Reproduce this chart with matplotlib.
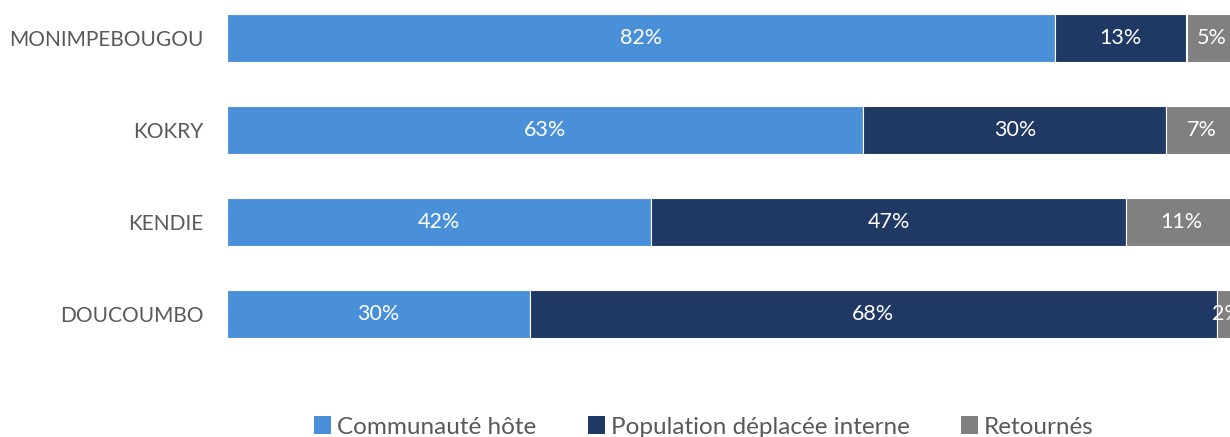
import matplotlib
matplotlib.use("Agg")
import matplotlib.pyplot as plt
import numpy as np

categories = ["MONIMPEBOUGOU", "KOKRY", "KENDIE", "DOUCOUMBO"]
series_names = ["Communauté hôte", "Population déplacée interne", "Retournés"]
hote = [82, 63, 42, 30]
deplacee = [13, 30, 47, 68]
retournes = [5, 7, 11, 2]
colors = ["#4A90D9", "#203864", "#808080"]

plt.rcParams['font.family'] = ['Lato', 'DejaVu Sans']

W, H = 1230, 437
fig = plt.figure(figsize=(W / 100, H / 100), dpi=100)
# axes in pixel terms
left_px, right_px = 227, 1237
top_px, bot_px = 0, 360
ax = fig.add_axes([left_px / W, 1 - bot_px / H, (right_px - left_px) / W, (bot_px - top_px) / H])

y = np.arange(len(categories))
bar_h = 48 / 92
series = [hote, deplacee, retournes]
left = np.zeros(len(categories))
handles = []
for name, vals, col in zip(series_names, series, colors):
    vals = np.array(vals, dtype=float)
    b = ax.barh(y, vals, left=left, height=bar_h, color=col, edgecolor="white", linewidth=0.8, label=name)
    handles.append(b)
    for yi, l, v in zip(y, left, vals):
        ax.text(l + v / 2, yi, f"{int(v)}%", ha="center", va="center", color="white", fontsize=15.5)
    left += vals

ax.set_xlim(0, 100)
ax.set_ylim((bot_px - 38) / 92, (top_px - 38) / 92)
ax.set_yticks(y)
ax.set_yticklabels(categories, fontsize=15, color="#595959")
ax.tick_params(axis="y", length=0, pad=17)
ax.set_xticks([])
for s in ax.spines.values():
    s.set_visible(False)

leg = fig.legend(handles=handles, labels=series_names, loc="center", bbox_to_anchor=(704 / W, 1 - 427 / H),
                 ncol=3, frameon=False, fontsize=17.5, handlelength=0.7, handleheight=0.7,
                 handletextpad=0.25, columnspacing=2.1, labelcolor="#595959")
for h in leg.legend_handles:
    h.set_edgecolor("none")

fig.savefig("out.png", dpi=100)
